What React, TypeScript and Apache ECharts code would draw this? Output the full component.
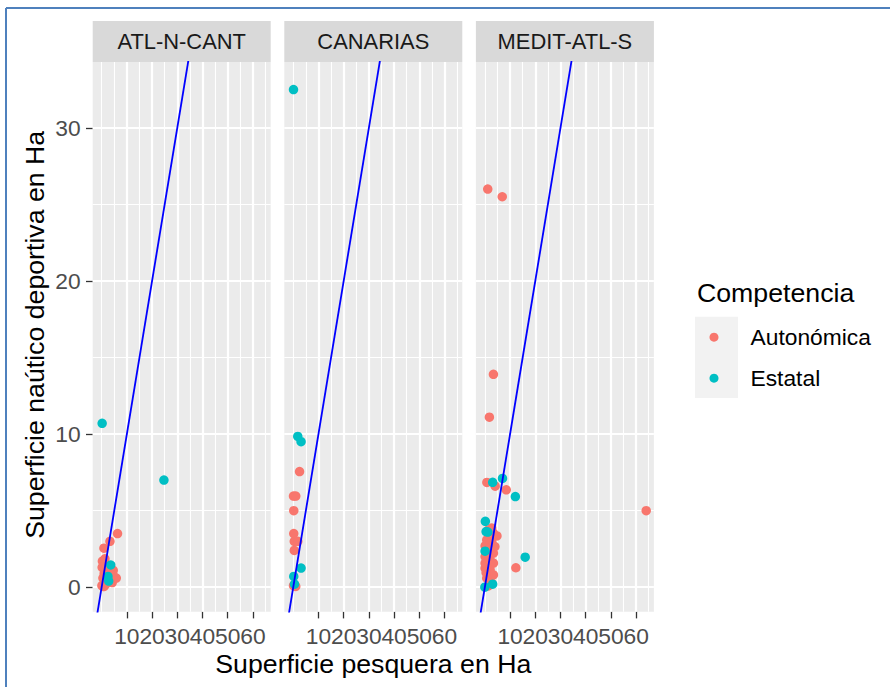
import React, { useEffect, useRef } from "react";
import * as echarts from "echarts";

const panels = ["ATL-N-CANT", "CANARIAS", "MEDIT-ATL-S"];
const groups = ["Autonómica", "Estatal"];
const groupColors = ["#F8766D", "#00BFC4"];

// [Superficie pesquera, Superficie naútico deportiva]
const atlAutonomica = [
  [6.3, 3.5], [3.3, 3.0], [0.9, 2.55], [0.3, 1.7], [1.3, 1.85], [0.2, 1.3], [1.0, 0.9],
  [2.0, 0.5], [0.1, 0.1], [1.0, 0.05], [4.2, 0.3], [5.8, 0.6], [4.6, 1.1], [3.0, 1.4],
  [2.3, 1.0], [0.5, 0.6], [1.7, 0.2], [0.6, 0.05], [4.5, 0.8],
];
const atlEstatal = [[0.2, 10.7], [24.7, 7.0], [3.6, 1.45], [2.5, 0.7], [2.8, 0.4]];

const canAutonomica = [
  [2.5, 7.55], [0.1, 5.95], [1.0, 5.95], [0.2, 5.0], [0.2, 3.5], [0.4, 3.0], [1.8, 3.0],
  [0.4, 2.4], [0.1, 0.1], [1.0, 0.05],
];
const canEstatal = [[0.1, 32.5], [1.8, 9.85], [3.1, 9.5], [3.1, 1.25], [0.2, 0.7], [0.5, 0.2]];

const medAutonomica = [
  [1.15, 26.0], [6.9, 25.5], [3.4, 13.9], [1.8, 11.1], [0.8, 6.84], [4.1, 6.6], [8.5, 6.36],
  [64.0, 5.0], [4.8, 3.35], [12.3, 1.27],
  [2.7, 3.86], [3.4, 3.53], [0.75, 3.09], [2.7, 2.98], [0.1, 2.7], [2.1, 2.55], [3.4, 2.22],
  [0.1, 2.0], [2.1, 1.78], [3.4, 1.57], [0.1, 1.24], [2.1, 1.13], [3.4, 0.8], [0.75, 0.59],
  [2.7, 0.26], [1.4, 0.08], [0.1, 1.57], [4.0, 2.65], [1.4, 3.74], [1.6, 2.0], [0.5, 0.95],
];
const medEstatal = [
  [7.0, 7.1], [3.1, 6.85], [12.1, 5.92], [0.2, 4.3], [0.5, 3.63], [1.2, 3.6], [16.0, 1.96],
  [0.0, 0.0], [3.1, 0.2], [0.1, 2.35],
];

const panelData = [
  [atlAutonomica, atlEstatal],
  [canAutonomica, canEstatal],
  [medAutonomica, medEstatal],
];

const xTicks = [10, 20, 30, 40, 50, 60];
const yTicks = [0, 10, 20, 30];
const xGridValues = [0, 5, 10, 15, 20, 25, 30, 35, 40, 45, 50, 55, 60, 65];
const yGridValues = [0, 5, 10, 15, 20, 25, 30];
const refLine = [[-5, -5], [70, 70]]; // y = x

const X_MIN = -3.55, X_MAX = 67.05, Y_MIN = -1.6, Y_MAX = 34.3;
const PANEL_LEFT = [92.7, 284.3, 475.9];
const PANEL_TOP = 62;
const PANEL_W = 178;
const PANEL_H = 549.7;
const STRIP_TOP = 21;
const FONT = "'Liberation Sans', Arial, sans-serif";
const SMALL = 22.8;
const STRIP = 21.9;
const BIG = 26.7;

export default function App() {
  const ref = useRef<HTMLDivElement>(null);
  useEffect(() => {
    if (!ref.current) return;
    const chart = echarts.init(ref.current, null, { renderer: "svg" });

    const grid: any[] = [];
    const xAxis: any[] = [];
    const yAxis: any[] = [];
    const series: any[] = [];
    const graphic: any[] = [];

    const tickStyle = { color: "#333333", width: 1.3 };
    const hiddenLine = { show: true, onZero: false, lineStyle: { color: "#EBEBEB", width: 0.01, opacity: 0 } };

    panels.forEach((p, i) => {
      grid.push({
        left: PANEL_LEFT[i], top: PANEL_TOP, width: PANEL_W, height: PANEL_H,
        show: true, backgroundColor: "#EBEBEB", borderWidth: 0,
      });
      xAxis.push({
        gridIndex: i, type: "value", min: X_MIN, max: X_MAX, position: "bottom",
        splitLine: { show: false }, axisLine: hiddenLine,
        axisTick: { show: true, inside: false, customValues: xTicks, length: 6.7, lineStyle: tickStyle },
        axisLabel: { show: true, customValues: xTicks, color: "#4D4D4D", fontSize: SMALL, fontFamily: FONT, margin: 13 },
      });
      yAxis.push({
        gridIndex: i, type: "value", min: Y_MIN, max: Y_MAX, position: "left",
        splitLine: { show: false }, axisLine: hiddenLine,
        axisTick: { show: i === 0, inside: false, customValues: yTicks, length: 6.7, lineStyle: tickStyle },
        axisLabel: { show: i === 0, customValues: yTicks, color: "#4D4D4D", fontSize: SMALL, fontFamily: FONT, margin: 12 },
      });
      // grid lines
      series.push({
        type: "scatter", xAxisIndex: i, yAxisIndex: i, data: [], z: 1, silent: true,
        markLine: {
          z: 1, silent: true, symbol: ["none", "none"], label: { show: false }, animation: false,
          data: [
            ...xGridValues.map((v) => ({ xAxis: v, lineStyle: { color: "#FFFFFF", type: "solid", width: v % 10 === 0 && v > 0 ? 2.2 : 1.1 } })),
            ...yGridValues.map((v) => ({ yAxis: v, lineStyle: { color: "#FFFFFF", type: "solid", width: v % 10 === 0 ? 2.2 : 1.1 } })),
          ],
        },
      });
      groups.forEach((g, k) => {
        series.push({
          type: "scatter", name: g, xAxisIndex: i, yAxisIndex: i, data: panelData[i][k],
          symbol: "circle", symbolSize: 9.5, itemStyle: { color: groupColors[k], opacity: 1 }, z: 10 + k,
        });
      });
      series.push({
        type: "line", xAxisIndex: i, yAxisIndex: i, data: refLine, symbol: "none", clip: true,
        lineStyle: { color: "#0000FF", width: 1.8 }, z: 14, silent: true,
      });
      // strip
      graphic.push({
        type: "rect", shape: { x: PANEL_LEFT[i], y: STRIP_TOP, width: PANEL_W, height: PANEL_TOP - STRIP_TOP },
        style: { fill: "#D9D9D9" }, silent: true,
      });
      graphic.push({
        type: "text", x: PANEL_LEFT[i] + PANEL_W / 2, y: (STRIP_TOP + PANEL_TOP) / 2,
        style: { text: p, fill: "#1A1A1A", fontSize: STRIP, fontFamily: FONT, align: "center", verticalAlign: "middle" },
        silent: true,
      });
    });

    // titles
    graphic.push({
      type: "text", x: (PANEL_LEFT[0] + PANEL_LEFT[2] + PANEL_W) / 2, y: 664,
      style: { text: "Superficie pesquera en Ha", fill: "#000000", fontSize: BIG, fontFamily: FONT, align: "center", verticalAlign: "middle" },
    });
    graphic.push({
      type: "text", x: 35, y: PANEL_TOP + PANEL_H / 2 - 2, rotation: Math.PI / 2,
      style: { text: "Superficie naútico deportiva en Ha", fill: "#000000", fontSize: BIG, fontFamily: FONT, align: "center", verticalAlign: "middle" },
    });
    graphic.push({
      type: "text", x: 697, y: 293,
      style: { text: "Competencia", fill: "#000000", fontSize: BIG, fontFamily: FONT, align: "left", verticalAlign: "middle" },
    });
    graphic.push({
      type: "rect", shape: { x: 695, y: 316.7, width: 43, height: 81.3 }, style: { fill: "#F2F2F2" }, z: -1,
    });
    // frame of the screenshot
    graphic.push({ type: "line", shape: { x1: 6, y1: 8, x2: 890, y2: 8 }, style: { stroke: "#4F81BD", lineWidth: 2 } });
    graphic.push({ type: "line", shape: { x1: 6, y1: 8, x2: 6, y2: 687 }, style: { stroke: "#4F81BD", lineWidth: 2 } });

    chart.setOption({
      animation: false,
      backgroundColor: "#FFFFFF",
      grid, xAxis, yAxis, series, graphic,
      legend: {
        data: groups, orient: "vertical", left: 709.5, top: 316.7, padding: 0,
        itemWidth: 9, itemHeight: 9, itemGap: 0, icon: "circle", selectedMode: false,
        textStyle: { fontSize: SMALL, fontFamily: FONT, color: "#000000", lineHeight: 41, padding: [0, 0, 0, 27] },
      },
    });
    return () => chart.dispose();
  }, []);
  return <div ref={ref} style={{ position: "absolute", left: 0, top: 0, width: 890, height: 687 }} />;
}
